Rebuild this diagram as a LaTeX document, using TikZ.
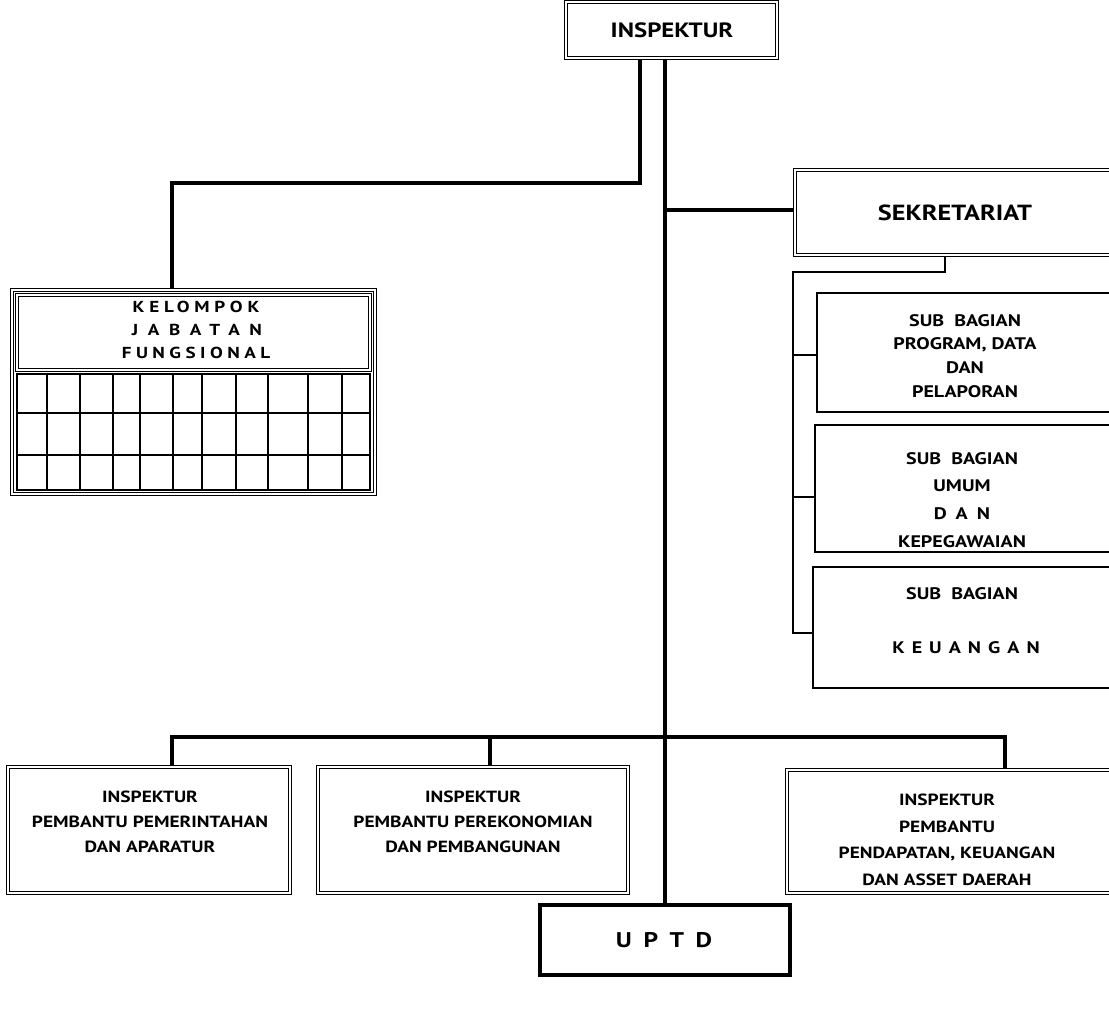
\documentclass[tikz,border=0pt]{standalone}
\usepackage{fontspec}
\setmainfont{PT Sans}[FakeStretch=1.2]
\usetikzlibrary{fit}
\newcommand\lsp[2]{{\addfontfeature{LetterSpace=#1}#2}}
\begin{document}
\begin{tikzpicture}[x=0.0265cm,y=-0.0265cm,
  conn/.style={line width=2.8pt},
  dbox/.style={draw, line width=1pt, double=white, double distance=1.2pt, inner sep=0pt},
  sbox/.style={draw, line width=1.6pt, inner sep=0pt},
  gridl/.style={line width=2pt},
  txt/.style={font=\bfseries\fontsize{12.2}{19}\selectfont, align=center, inner sep=0pt},
  big/.style={font=\bfseries\fontsize{15.6}{18}\selectfont, align=center, inner sep=0pt},
]
\useasboundingbox (0,0) rectangle (1109,1023);
\clip (0,0) rectangle (1109,1023);

% ---------- boxes ----------
\node[dbox, fit={(566,2)(777,58)}] (insp) {};
\node[big] (inspT) at (672,30) {INSPEKTUR};

\node[dbox, fit={(12,290)(375,494)}] (kjf) {};
\node[dbox, fit={(17,295)(370,370)}] (kjfh) {};
\node[txt, font=\bfseries\fontsize{12}{19}\selectfont] (kjfT1) at (196,307) {\lsp{30}{KELOMPOK}};
\node[txt, font=\bfseries\fontsize{12}{19}\selectfont] (kjfT2) at (197,330) {\lsp{60}{JABATAN}};
\node[txt, font=\bfseries\fontsize{12}{19}\selectfont] (kjfT3) at (196,353) {\lsp{28}{FUNGSIONAL}};
\node[sbox, line width=2pt, fit={(17,374)(370,490)}] (grid) {};
\foreach \gx in {47,80,113,140,173,202,236,268,308,342}
  \draw[gridl] (grid.north -| \gx,0) -- (grid.south -| \gx,0);
\foreach \gy in {413,455}
  \draw[gridl] (grid.west |- 0,\gy) -- (grid.east |- 0,\gy);

\node[dbox, fit={(795,170)(1115,255)}] (sek) {};
\node[big, font=\bfseries\fontsize{16.5}{18}\selectfont] (sekT) at (955,213) {SEKRETARIAT};

\node[sbox, fit={(817,293)(1115,412)}] (sb1) {};
\node[txt, font=\bfseries\fontsize{12.6}{18}\selectfont] (sb1T) at (965,356)
  {SUB\ \ BAGIAN\\PROGRAM, DATA\\DAN\\PELAPORAN};
\node[sbox, fit={(815,425)(1115,552)}] (sb2) {};
\node[txt, font=\bfseries\fontsize{12.6}{21}\selectfont] (sb2T) at (962,500)
  {SUB\ \ BAGIAN\\UMUM\\\lsp{55}{DAN}\\KEPEGAWAIAN};
\node[sbox, fit={(813,567)(1115,688)}] (sb3) {};
\node[txt, font=\bfseries\fontsize{12.6}{18}\selectfont] (sb3T1) at (962,594) {SUB\ \ BAGIAN};
\node[txt, font=\bfseries\fontsize{12.6}{18}\selectfont] (sb3T2) at (966,648) {\lsp{42}{KEUANGAN}};

\node[dbox, fit={(8,767)(290,893)}] (ip1) {};
\node[txt] (ip1T) at (150,822) {INSPEKTUR\\PEMBANTU PEMERINTAHAN\\DAN APARATUR};
\node[dbox, fit={(318,767)(628,893)}] (ip2) {};
\node[txt] (ip2T) at (473,822) {INSPEKTUR\\PEMBANTU PEREKONOMIAN\\DAN PEMBANGUNAN};
\node[dbox, fit={(787,770)(1115,893)}] (ip3) {};
\node[txt, font=\bfseries\fontsize{12.2}{20}\selectfont] (ip3T) at (947,840)
  {INSPEKTUR\\PEMBANTU\\PENDAPATAN, KEUANGAN\\DAN ASSET DAERAH};

\node[sbox, line width=2.4pt, fit={(540,905)(790,975)}] (uptd) {};
\node[big, font=\bfseries\fontsize{16}{18}\selectfont] (uptdT) at (664,940) {\lsp{55}{UPTD}};

% ---------- junctions ----------
\coordinate (jk) at (640,183);
\coordinate (jkl) at (172,183);
\coordinate (js) at (665,210);
\coordinate (bs) at (945,272);
\coordinate (bl) at (793,272);
\coordinate (bb) at (793,633);
\coordinate (b1) at (793,355);
\coordinate (b2) at (793,497);
\coordinate (hl) at (172,737);
\coordinate (hm) at (490,737);
\coordinate (hr) at (1005,737);

% ---------- connectors ----------
\draw[conn] (insp.south -| jk) -- (jk) -- (jkl) -- (kjf.north -| jkl);
\draw[conn] (insp.south -| uptd.north) -- (uptd.north);
\draw[conn] (js) -- (sek.west |- js);
\draw[conn, line width=1.8pt] (sek.south -| bs) -- (bs) -- (bl) -- (bb) -- (sb3.west |- bb);
\draw[conn, line width=1.6pt] (b1) -- (sb1.west |- b1);
\draw[conn, line width=1.6pt] (b2) -- (sb2.west |- b2);
\draw[conn] (ip1.north -| hl) -- (hl) -- (hr) -- (ip3.north -| hr);
\draw[conn] (hm) -- (ip2.north -| hm);
\end{tikzpicture}
\end{document}
